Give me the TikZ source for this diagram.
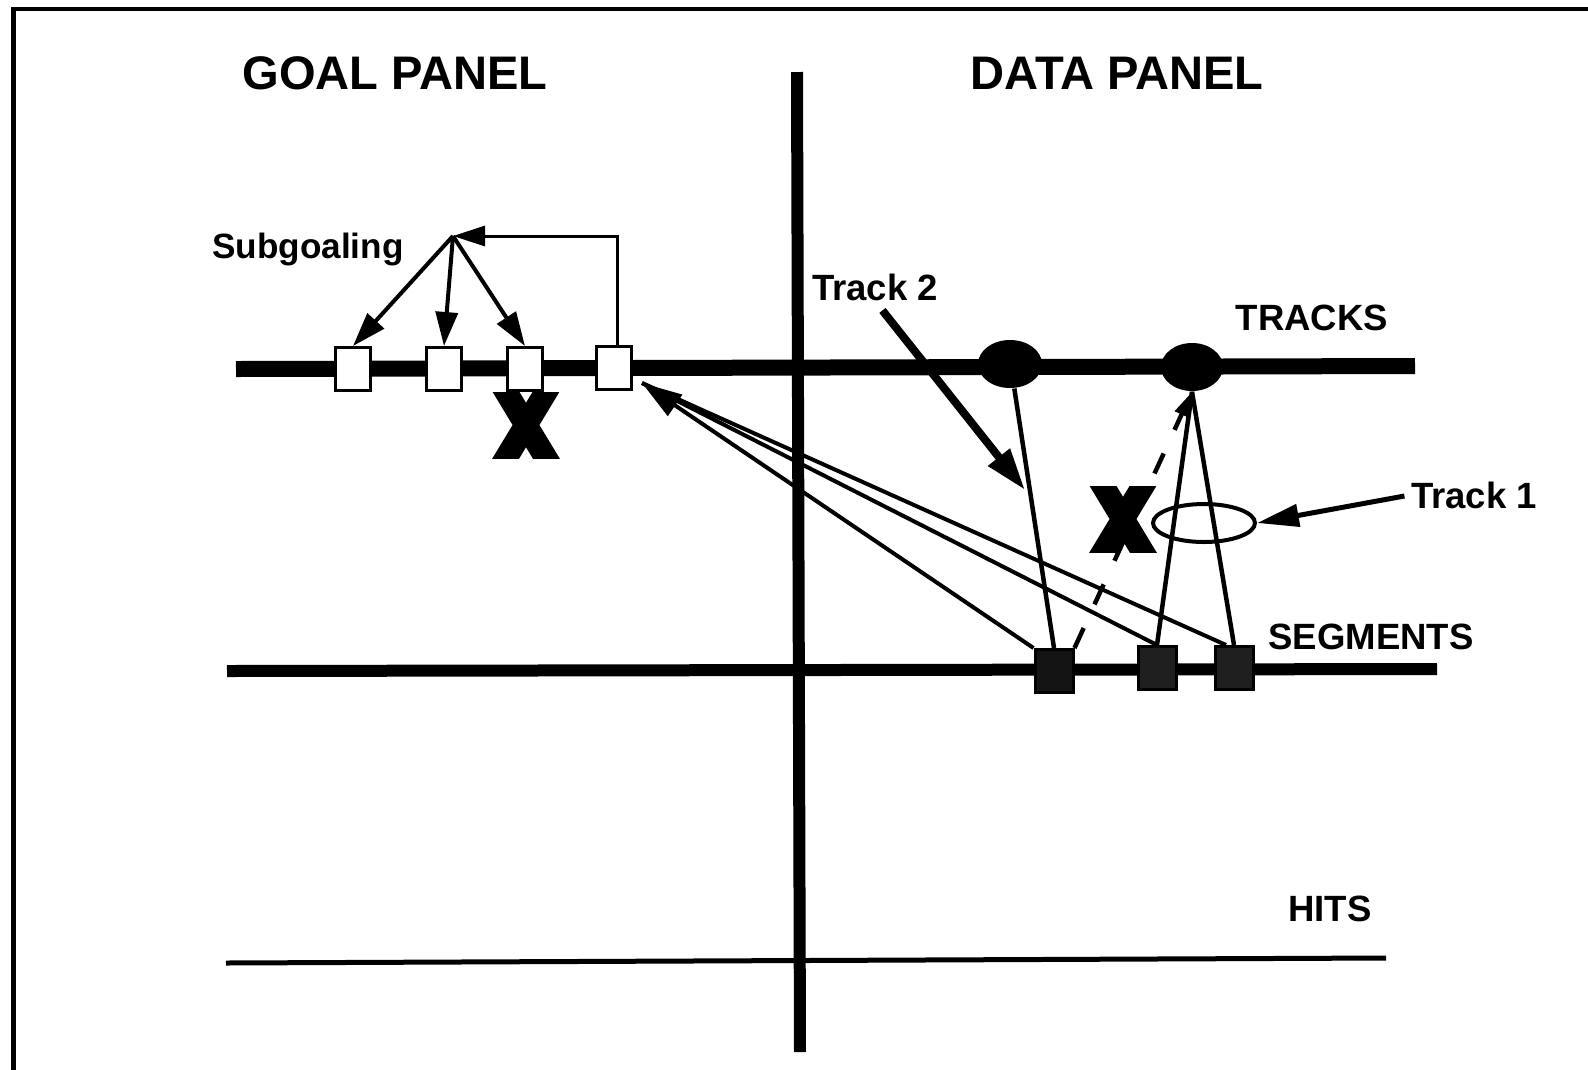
\documentclass[tikz,border=0pt]{standalone}
\usepackage{fontspec}
\setmainfont{Liberation Sans}
\usetikzlibrary{arrows.meta, shapes.geometric}

\tikzset{
  paneltitle/.style={font=\bfseries\fontsize{13.4}{16}\selectfont, inner sep=0pt, anchor=base},
  levellabel/.style={font=\bfseries\fontsize{10.4}{12}\selectfont, inner sep=0pt, anchor=base},
  goalbox/.style={draw, fill=white, line width=0.3mm, minimum width=3.5mm, minimum height=4.3mm, inner sep=0pt},
  segbox/.style={draw, fill=black!88, line width=0.3mm, minimum width=3.8mm, minimum height=4.3mm, inner sep=0pt},
  trackdot/.style={ellipse, fill=black, minimum width=6.4mm, minimum height=4.8mm, inner sep=0pt},
  subarrow/.style={line width=0.4mm, -{Triangle[length=3.4mm, width=2.2mm]}},
  backarrow/.style={line width=0.3mm, -{Triangle[length=3.2mm, width=2mm]}},
  linkline/.style={line width=0.45mm},
  xmark/.pic={
    \begin{scope}
      \clip (-40,-33) rectangle (40,33);
      \draw[line width=2.3mm] (-29,-48) -- (29,48) (29,-48) -- (-29,48);
    \end{scope}
  }
}

\begin{document}
\begin{tikzpicture}[x=0.1mm, y=-0.1mm]

    \clip (0,0) rectangle (1588,1069);

    % frame, only top and left edge on the page
    \draw[line width=0.45mm] (13.5,1200) -- (13.5,9) -- (1700,9);

    % panel divider and the three levels
    \draw[line width=1.2mm] (797,72) -- (800,1052);
    \draw[line width=1.6mm] (236,369) -- (1415,366);
    \draw[line width=1.2mm] (227,671) -- (1437,669);
    \draw[line width=0.5mm] (226,963) -- (1386,958);

    % texts
    \node[paneltitle] (goaltitle) at (395,89) {GOAL PANEL};
    \node[paneltitle] (datatitle) at (1117,89) {DATA PANEL};
    \node[levellabel, font=\bfseries\fontsize{10}{12}\selectfont] (subgoal) at (308,258) {Subgoaling};
    \node[levellabel] (trk2lbl) at (875,300) {Track 2};
    \node[levellabel] (tracks) at (1312,330) {TRACKS};
    \node[levellabel] (trk1lbl) at (1474,508) {Track 1};
    \node[levellabel] (segments) at (1371,649) {SEGMENTS};
    \node[levellabel] (hits) at (1330,921) {HITS};

    % goal panel
    \node[goalbox] (g1) at (353,369) {};
    \node[goalbox] (g2) at (444,369) {};
    \node[goalbox] (g3) at (525,369) {};
    \node[goalbox] (g4) at (614,368) {};
    \coordinate (hub) at (453,236);
    \coordinate (gtip) at (642,383);

    \foreach \g in {g1,g2,g3}
        \draw[subarrow] (hub) -- (\g.north);
    \draw[backarrow] ([xshift=0.3mm]g4.north) |- (hub);
    \pic at (526,425) {xmark};

    % data panel
    \node[trackdot] (t1) at (1010,364) {};
    \node[trackdot, minimum width=6.2mm] (t2) at (1192,367) {};
    \node[segbox, fill=black!92] (s1) at (1054,671) {};
    \node[segbox] (s2) at (1157,668) {};
    \node[segbox] (s3) at (1234,668) {};
    \node[ellipse, draw, line width=0.4mm, minimum width=10.2mm, minimum height=3.8mm, inner sep=0pt] (trk1) at (1204,523) {};
    \coordinate (trk2tip) at (1025,490);

    \draw[linkline] (t1.-80) -- (s1.north);
    \draw[linkline] (t2.south) -- (s2.north);
    \draw[linkline] (t2.south) -- (s3.north);
    \draw[linkline, dashed, dash pattern=on 2.2mm off 2.6mm, -{Triangle[length=2.5mm, width=1.4mm]}]
        (s1.north east) -- (t2.south);
    \pic at (1123,519) {xmark};

    % segments back to the goal
    \draw[line width=0.4mm] (s2.north) -- (gtip);
    \draw[line width=0.4mm] ([xshift=-0.8mm]s3.north) -- (gtip);
    \draw[line width=0.4mm, -{Triangle[length=4mm, width=2.5mm]}] (s1.north west) -- (gtip);

    % label arrows
    \draw[line width=0.8mm, shorten <=1.2mm, -{Triangle[length=4.2mm, width=2.6mm]}] (trk2lbl.south) -- (trk2tip);
    \draw[line width=0.5mm, shorten <=0.6mm, -{Triangle[length=4.2mm, width=2.2mm]}] (trk1lbl.west) -- (trk1.east);

\end{tikzpicture}
\end{document}
